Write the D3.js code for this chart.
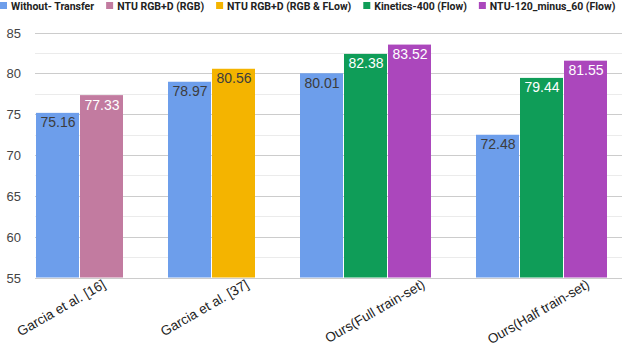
<!DOCTYPE html>
<html>
<head>
<meta charset="utf-8">
<script src="https://cdn.jsdelivr.net/npm/d3@7"></script>
<style>
  body { margin: 0; background: #fff; }
  svg { display: block; }
</style>
</head>
<body>
<div id="viz"></div>
<script>
// data
const categories = ['Garcia et al. [16]', 'Garcia et al. [37]', 'Ours(Full train-set)', 'Ours(Half train-set)'];
const seriesNames = ['Without- Transfer', 'NTU RGB+D (RGB)', 'NTU RGB+D (RGB & FLow)', 'Kinetics-400 (Flow)', 'NTU-120_minus_60 (Flow)'];
const withoutTransfer = [75.16, 78.97, 80.01, 72.48];
const ntuRgb = [77.33, null, null, null];
const ntuRgbFlow = [null, 80.56, null, null];
const kinetics = [null, null, 82.38, 79.44];
const ntu120 = [null, null, 83.52, 81.55];
const yTicks = [55, 60, 65, 70, 75, 80, 85];

const seriesValues = [withoutTransfer, ntuRgb, ntuRgbFlow, kinetics, ntu120];
const colors = ['#6d9eeb', '#c27ba0', '#f4b400', '#0f9d58', '#ab47bc'];
const labelColors = ['#3c3c3c', '#fff', '#3c3c3c', '#fff', '#fff'];

const w = 624;
const h = 348;

var svg = d3.select('#viz').
append('svg').
attr('width', w).
attr('height', h);

// bars sit side by side, missing series take no room, one slot gap between groups
var slots = [];
var groups = [];
var u = 0;
categories.forEach(function (c, ci) {
  var start = u;
  seriesValues.forEach(function (vals, si) {
    if (vals[ci] != null) {
      slots.push({cat: ci, series: si, value: vals[ci], slot: u});
      u++;
    }
  });
  groups.push({name: c, start: start, end: u});
  u++;
});
const slotCount = u - 1;

const xScale = d3.scaleLinear().
domain([0, slotCount]).
range([36, 608]);

const yScale = d3.scaleLinear().
domain([55, 85]).
range([277.5, 32.5]);

// gridlines, minor then major
var minor = d3.range(57.5, 85, 5);
svg.selectAll('line.minor').
data(minor).
enter().
append('line').
attr('class', 'minor').
attr('x1', 35).
attr('x2', 622).
attr('y1', d => Math.round(yScale(d)) + 0.5).
attr('y2', d => Math.round(yScale(d)) + 0.5).
style('stroke', '#ebebeb');

svg.selectAll('line.major').
data(yTicks).
enter().
append('line').
attr('class', 'major').
attr('x1', 35).
attr('x2', 622).
attr('y1', d => Math.round(yScale(d)) + 0.5).
attr('y2', d => Math.round(yScale(d)) + 0.5).
style('stroke', '#cccccc');

svg.selectAll('text.ytick').
data(yTicks).
enter().
append('text').
attr('class', 'ytick').
attr('x', 21).
attr('y', d => yScale(d) + 5).
attr('text-anchor', 'end').
style('font-family', 'Liberation Sans, Arial, sans-serif').
style('font-size', '13px').
style('fill', '#444').
text(d => d);

// bars
svg.selectAll('rect.bar').
data(slots).
enter().
append('rect').
attr('class', 'bar').
attr('x', d => xScale(d.slot)).
attr('width', d => xScale(d.slot + 1) - xScale(d.slot) - 1).
attr('y', d => yScale(d.value)).
attr('height', d => yScale(55) - yScale(d.value)).
attr('fill', d => colors[d.series]);

svg.selectAll('text.val').
data(slots).
enter().
append('text').
attr('class', 'val').
attr('x', d => (xScale(d.slot) + xScale(d.slot + 1)) / 2).
attr('y', d => yScale(d.value) + 14.5).
attr('text-anchor', 'middle').
style('font-family', 'Liberation Sans, Arial, sans-serif').
style('font-size', '14px').
style('fill', d => labelColors[d.series]).
text(d => d.value.toFixed(2));

// category labels, slanted, end of text in slot units
const labelAt = [1.6, 4.86, 8.86, 12.6];
svg.selectAll('text.cat').
data(groups).
enter().
append('text').
attr('class', 'cat').
attr('text-anchor', 'end').
attr('transform', (d, i) => 'translate(' + xScale(labelAt[i]) + ',287) rotate(-30)').
style('font-family', 'Liberation Sans, Arial, sans-serif').
style('font-size', '13.5px').
style('fill', '#222').
text(d => d.name);

// legend, laid out left to right
var lx = 0;
seriesNames.forEach(function (name, i) {
  var g = svg.append('g').
  attr('class', 'legend').
  attr('transform', 'translate(' + lx + ',0)');

  g.append('rect').
  attr('x', 0).
  attr('y', 2).
  attr('width', 7).
  attr('height', 7).
  attr('fill', colors[i]);

  var t = g.append('text').
  attr('x', 11).
  attr('y', 10).
  style('font-family', 'Roboto, sans-serif').
  style('font-weight', 'bold').
  style('font-size', '10.5px').
  style('fill', '#222').
  text(name);

  lx += 11 + t.node().getComputedTextLength() + 12;
});
</script>
</body>
</html>
